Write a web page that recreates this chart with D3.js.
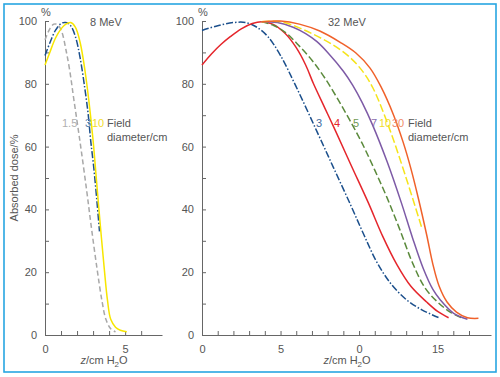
<!DOCTYPE html>
<html>
<head>
<meta charset="utf-8">
<script src="https://cdn.jsdelivr.net/npm/d3@7"></script>
<style>
  body { margin: 0; background: #fff; }
  svg text { font-family: "Liberation Sans", Arial, sans-serif; fill: #555; }
</style>
</head>
<body>
<div class="chart"></div>
<script>
// 8 MeV panel, depth z (cm) and dose (%)
const z15 = [0, 0.3, 0.55, 0.8, 1.05, 1.3, 1.55, 1.8, 2.2, 2.6, 2.9, 3.25, 3.55, 3.8, 4.1, 4.4];
const d15 = [94, 97.5, 99, 98.8, 96.5, 91, 84, 75, 61, 46, 34, 21, 11, 5, 2, 1];
const z3a = [0, 0.3, 0.65, 1.0, 1.3, 1.6, 1.9, 2.2, 2.5, 2.7, 2.85, 3.05, 3.25, 3.4];
const d3a = [89, 93, 97, 99.2, 99.5, 98.5, 95, 88, 78, 70, 62, 53, 42, 33];
const z10a = [0, 0.3, 0.65, 1.0, 1.3, 1.6, 1.9, 2.2, 2.5, 2.75, 3.0, 3.2, 3.45, 3.7, 3.9, 4.1, 4.4, 4.7, 5.1];
const d10a = [86, 90, 94.5, 97.5, 99, 99.5, 98, 93, 84, 74, 62, 50, 35, 21, 11, 5, 2.5, 1.5, 1];

// 32 MeV panel
const z3b = [0, 1, 2, 2.8, 3.5, 4.2, 5, 6, 7.3, 8.4, 9.5, 10.3, 11.1, 12, 13, 14, 15.1];
const d3b = [97, 98.5, 99.5, 99.5, 98, 95, 89, 79, 65, 53, 41, 32, 23.5, 16.5, 11.3, 8, 5.5];
const z4b = [0, 0.6, 1.2, 1.8, 2.5, 3.2, 3.8, 4.5, 5.3, 6, 6.6, 7.1, 7.8, 8.5, 9.5, 10.6, 11.5, 12.4, 13.3, 14.3, 15, 15.7];
const d4b = [86, 89.5, 92.5, 95, 97.5, 99.2, 99.8, 99, 96, 91.5, 86, 80, 72.5, 65, 54, 42, 31.5, 22.5, 15.5, 10.5, 7.5, 5.5];
const z5b = [3.8, 4.6, 5.4, 6.2, 7, 7.8, 8.6, 9.4, 10.2, 11, 11.8, 12.6, 13.4, 14.2, 15, 15.8, 16.6];
const d5b = [99.8, 98.5, 96, 92, 87.5, 82, 75.5, 68.5, 61, 52.5, 43.5, 33.5, 23, 15, 10.5, 7.3, 5.3];
const z7b = [3.8, 4.8, 5.8, 6.6, 7.3, 8.0, 9.0, 9.6, 10.2, 10.85, 11.8, 12.7, 13.4, 14.1, 14.7, 15.2, 16, 16.9];
const d7b = [99.8, 99.5, 98, 96, 93.5, 90, 84, 79.5, 74, 67, 55, 42, 31, 21, 14.5, 11, 7, 5];
const z10b = [3.8, 5, 6.2, 7.2, 8.3, 9.4, 10.3, 10.9, 11.5, 12.2, 12.9, 13.6, 14];
const d10b = [99.8, 99.8, 97.8, 95.5, 92.5, 88.5, 83.5, 78.5, 71.5, 62, 51.5, 40.5, 34];
const z30b = [3.8, 5, 6.2, 7.5, 8.8, 9.8, 10.7, 11.4, 12.2, 12.8, 13.3, 13.8, 14.3, 14.7, 15.1, 15.6, 16.2, 16.9, 17.6];
const d30b = [99.8, 100, 99, 96.8, 93.2, 89.8, 85, 79, 70, 61.5, 53, 43, 32, 22.5, 15.5, 10.5, 7.3, 5.5, 5.3];

const yTicks = [0, 10, 20, 30, 40, 50, 60, 70, 80, 90, 100];
const xTicksLeft = [0, 1, 2, 3, 4, 5, 6];
const xLabelsLeft = {0: "0", 5: "5"};
const xTicksRight = d3.range(0, 18);
const xLabelsRight = {0: "0", 5: "5", 10: "0", 15: "15"};

const W = 500, H = 377;
const svg = d3.select(".chart").append("svg")
  .attr("width", W).attr("height", H);

svg.append("rect")
  .attr("x", 4).attr("y", 4).attr("width", 492).attr("height", 368)
  .attr("fill", "none").attr("stroke", "#27a6e2").attr("stroke-width", 1.6);

const y = d3.scaleLinear().domain([0, 100]).range([335, 21]);

function mk(zs, ds) { return zs.map((z, i) => [z, ds[i]]); }

const panels = [
  {
    x: d3.scaleLinear().domain([0, 7.3]).range([45, 162]),
    ticks: xTicksLeft, labels: xLabelsLeft, title: "8 MeV", titleX: 90, xTitleX: 104,
    series: [
      {data: mk(z15, d15), color: "#a8a8a8", dash: "5,3", name: "1.5", lx: 62, lc: "#b0b0b0"},
      {data: mk(z3a, d3a), color: "#1b4f8c", dash: "7,2,1.5,2", name: "3", lx: 85, lc: "#5b82ad"},
      {data: mk(z10a, d10a), color: "#f7e600", dash: null, name: "10", lx: 92, lc: "#f2dc2a"}
    ],
    fieldX: 107
  },
  {
    x: d3.scaleLinear().domain([0, 18.4]).range([202, 491]),
    ticks: xTicksRight, labels: xLabelsRight, title: "32 MeV", titleX: 328, xTitleX: 347,
    series: [
      {data: mk(z3b, d3b), color: "#1b4f8c", dash: "7,2,1.5,2", name: "3", lx: 316, lc: "#3c6aa0"},
      {data: mk(z4b, d4b), color: "#e5262c", dash: null, name: "4", lx: 334, lc: "#e5262c"},
      {data: mk(z5b, d5b), color: "#5b8a3c", dash: "7,3", name: "5", lx: 353, lc: "#6f9a55"},
      {data: mk(z7b, d7b), color: "#7d5aa6", dash: null, name: "7", lx: 371, lc: "#8a6db0"},
      {data: mk(z10b, d10b), color: "#f5e41a", dash: "8,3", name: "10", lx: 379, lc: "#f2dc2a"},
      {data: mk(z30b, d30b), color: "#f0612a", dash: null, name: "30", lx: 392, lc: "#f08a6a"}
    ],
    fieldX: 408
  }
];

panels.forEach(p => {
  const x = p.x;
  const x0 = x.range()[0];

  const ya = svg.append("g")
    .attr("transform", `translate(${x0},0)`)
    .call(d3.axisLeft(y).tickValues(yTicks).tickSizeInner(-4).tickSizeOuter(0).tickPadding(8)
      .tickFormat(d => d % 20 === 0 ? d : ""));

  const xa = svg.append("g")
    .attr("transform", `translate(0,${y(0)})`)
    .call(d3.axisBottom(x).tickValues(p.ticks).tickSizeInner(-4).tickSizeOuter(0).tickPadding(10)
      .tickFormat(d => p.labels[d] || ""));

  [ya, xa].forEach(a => {
    a.selectAll("path, line").attr("stroke", "#666");
    a.selectAll("text").style("font-size", "11px").attr("fill", "#555")
      .style("font-family", "'Liberation Sans', Arial, sans-serif");
  });

  svg.append("text").attr("x", x0 - 4).attr("y", 16)
    .style("font-size", "11px").text("%");

  svg.append("text").attr("x", p.titleX).attr("y", 26)
    .style("font-size", "11px").text(p.title);

  const line = d3.line()
    .x(d => x(d[0])).y(d => y(d[1]))
    .curve(d3.curveCatmullRom.alpha(0.5));

  svg.selectAll(null)
    .data(p.series)
    .join("path")
    .attr("d", d => line(d.data))
    .attr("fill", "none")
    .attr("stroke", d => d.color)
    .attr("stroke-width", 1.5)
    .attr("stroke-dasharray", d => d.dash);

  svg.selectAll(null)
    .data(p.series)
    .join("text")
    .attr("x", d => d.lx).attr("y", 127)
    .style("fill", d => d.lc)
    .style("font-size", "11px")
    .text(d => d.name);

  svg.append("text").attr("x", p.fieldX).attr("y", 127)
    .style("font-size", "11px").text("Field");
  svg.append("text").attr("x", p.fieldX).attr("y", 141)
    .style("font-size", "11px").text("diameter/cm");

  const xt = svg.append("text").attr("x", p.xTitleX).attr("y", 364)
    .attr("text-anchor", "middle").style("font-size", "11px");
  xt.append("tspan").style("font-style", "italic").text("z");
  xt.append("tspan").text("/cm H");
  xt.append("tspan").attr("dy", 3).style("font-size", "8px").text("2");
  xt.append("tspan").attr("dy", -3).text("O");
});

svg.append("text")
  .attr("transform", "translate(18,178) rotate(-90)")
  .attr("text-anchor", "middle")
  .style("font-size", "11px")
  .text("Absorbed dose/%");
</script>
</body>
</html>
